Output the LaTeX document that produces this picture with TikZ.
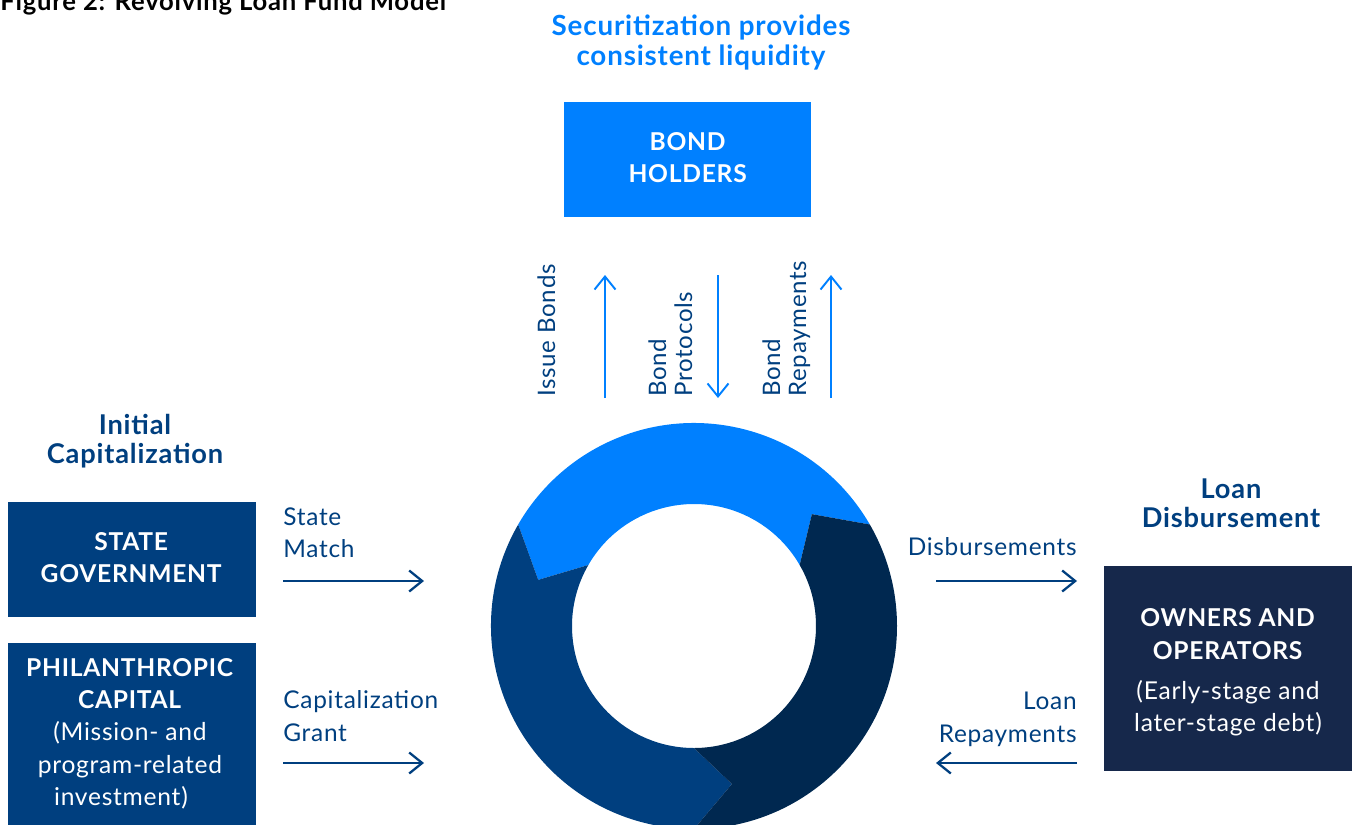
\documentclass[tikz,border=0pt]{standalone}
\usepackage{fontspec}
\setmainfont{Lato}[LetterSpace=3]
\usetikzlibrary{arrows.meta}
\definecolor{skyblue}{RGB}{0,128,255}
\definecolor{midblue}{RGB}{0,63,127}
\definecolor{ringnavy}{RGB}{0,40,80}
\definecolor{boxnavy}{RGB}{22,40,75}

\tikzset{
  flow/.style={-{Straight Barb[length=2.6mm,width=4.2mm]}, line width=1.3pt, midblue},
  upflow/.style={-{Straight Barb[length=2.6mm,width=4.2mm]}, line width=1.1pt, skyblue},
  panel/.style={inner sep=0pt, minimum width=4.96cm},
  boxtext/.style={text=white, align=center, inner sep=0pt, anchor=north,
    font=\fontsize{14}{18.4}\selectfont},
  lbl/.style={text=midblue, inner sep=0pt, font=\fontsize{13.9}{18.6}\selectfont},
  vlbl/.style={lbl, rotate=90, align=left, anchor=north west, font=\fontsize{13.7}{14.8}\selectfont},
  head/.style={text=midblue, align=center, inner sep=0pt, anchor=north,
    font=\bfseries\fontsize{15.5}{16.6}\selectfont},
}

\begin{document}
\begin{tikzpicture}[x=0.02cm,y=-0.02cm]
\useasboundingbox (0,0) rectangle (1353,825);
\clip (0,0) rectangle (1353,825);

% title, cut at the top
\node[anchor=base west, inner sep=0pt, font=\bfseries\fontsize{14.6}{16}\selectfont] (title) at (0,10) {Figure 2: Revolving Loan Fund Model};

% securitization
\node[head, text=skyblue, font=\bfseries\fontsize{15.8}{17}\selectfont] (sechead) at (701,15) {Securitization provides\\consistent liquidity};
\node[panel, fill=skyblue, minimum width=4.94cm, minimum height=2.3cm] (bond) at (687.5,159.5) {};
\node[boxtext] (bondtxt) at (688,132) {\textbf{BOND}\\\textbf{HOLDERS}};

\node[vlbl] (issue) at (537,397) {Issue Bonds};
\node[vlbl] (protocols) at (648,397) {Bond\\Protocols};
\node[vlbl] (repay) at (762,397) {Bond\\Repayments};

\coordinate (ibA) at (605,398); \coordinate (ibB) at (605,275);
\coordinate (bpA) at (718,275); \coordinate (bpB) at (718,398);
\coordinate (brA) at (831,398); \coordinate (brB) at (831,275);
\draw[upflow] (ibA) -- (ibB);
\draw[upflow] (bpA) -- (bpB);
\draw[upflow] (brA) -- (brB);

% the ring
\begin{scope}[shift={(694,626)}, yscale=-1]
\fill[skyblue] (30:203) arc[start angle=30, end angle=150, radius=203] -- (163.5:162.5)
  -- (150:122) arc[start angle=150, end angle=30, radius=122] -- (43.5:162.5) -- cycle;
\fill[midblue] (150:203) arc[start angle=150, end angle=270, radius=203] -- (283.5:162.5)
  -- (270:122) arc[start angle=270, end angle=150, radius=122] -- (163.5:162.5) -- cycle;
\fill[ringnavy] (270:203) arc[start angle=270, end angle=390, radius=203] -- (403.5:162.5)
  -- (390:122) arc[start angle=390, end angle=270, radius=122] -- (283.5:162.5) -- cycle;
\end{scope}

% left side
\node[head] (inithead) at (135,414) {Initial\\Capitalization};
\node[panel, fill=midblue, minimum height=2.3cm] (state) at (132,559.5) {};
\node[boxtext] (statetxt) at (131.5,532) {\textbf{STATE}\\\textbf{GOVERNMENT}};
\node[panel, fill=midblue, anchor=north, minimum height=3.74cm] (phil) at (132,643) {};
\node[boxtext] (philtxt) at (130,658) {\textbf{PHILANTHROPIC}\\\textbf{CAPITAL}\\
  (Mission- and\hspace*{0.36cm}\\program-related\hspace*{0.36cm}\\investment)\hspace*{0.36cm}};

\node[lbl, align=left, anchor=north west] (match) at (283,507) {State\\Match};
\node[lbl, align=left, anchor=north west] (grant) at (283,690) {Capitalization\\Grant};
\coordinate (smA) at (283,581); \coordinate (smB) at (424,581);
\coordinate (cgA) at (283,763); \coordinate (cgB) at (424,763);
\draw[flow] (smA) -- (smB);
\draw[flow] (cgA) -- (cgB);

% right side
\node[head] (loanhead) at (1231,478) {Loan\\Disbursement};
\node[panel, fill=boxnavy, minimum height=4.1cm] (owners) at (1228,668.5) {};
\node[boxtext] (ownerstxt) at (1228,608.5)
  {\textbf{OWNERS AND}\\\textbf{OPERATORS}\\[4.8pt](Early-stage and\\[-0.6pt]later-stage debt)};

\node[lbl, align=right, anchor=north east] (disb) at (1077,537) {Disbursements};
\node[lbl, align=right, anchor=north east] (loanrep) at (1077,692) {Loan\\Repayments};
\coordinate (dsA) at (936,581); \coordinate (dsB) at (1077,581);
\coordinate (lrA) at (1077,763); \coordinate (lrB) at (936,763);
\draw[flow] (dsA) -- (dsB);
\draw[flow] (lrA) -- (lrB);

\end{tikzpicture}
\end{document}
